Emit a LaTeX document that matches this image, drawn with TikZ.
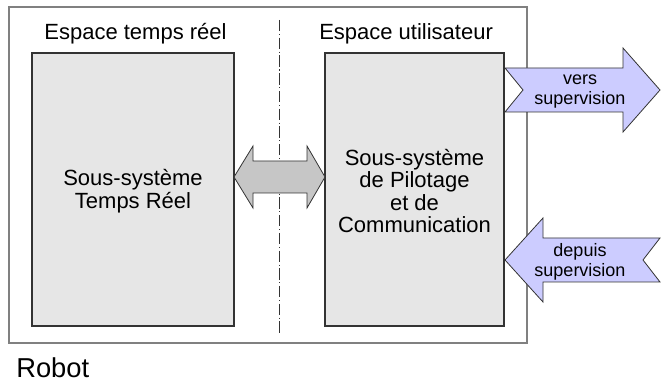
\documentclass[tikz,border=0pt]{standalone}
\usepackage{fontspec}
\setmainfont{Liberation Sans}
\definecolor{boxfill}{HTML}{E6E6E6}
\definecolor{boxline}{HTML}{333333}
\definecolor{outerline}{HTML}{808080}
\definecolor{arrowgray}{HTML}{C6C6C6}
\definecolor{lavender}{HTML}{CCCCFF}
\tikzset{
  subsys/.style={draw=boxline, fill=boxfill, line width=0.8pt},
  outerframe/.style={draw=outerline, line width=1pt},
  bigarrow/.style={draw=boxline, line width=0.6pt, line join=miter},
  bodytext/.style={align=center, font=\fontsize{16.5}{16.9}\selectfont},
  titletext/.style={font=\fontsize{16.5}{16.9}\selectfont},
  smalltext/.style={align=center, font=\fontsize{13.5}{15}\selectfont},
  divider/.style={draw=boxline, line width=0.7pt, dash pattern=on 8.5pt off 2pt on 0.8pt off 2pt}
}
\begin{document}
\begin{tikzpicture}[x=0.75pt, y=-0.75pt]
\useasboundingbox (0,0) rectangle (661,381);
% outer frame
\draw[outerframe] (9,7) rectangle (527,343);
% divider
\coordinate (dtop) at (279,20);
\coordinate (dbot) at (279,335);
\draw[divider] (dtop) -- (dbot);
% titles
\node[titletext, anchor=base] (t1) at (135.5,40) {Espace temps réel};
\node[titletext, anchor=base west, inner sep=0pt] (t2) at (319,40) {Espace utilisateur};
% subsystem boxes
\draw[subsys] (32,53) rectangle (234,326);
\draw[subsys] (325,53) rectangle (504,326);
\node[bodytext] (rt) at (133,191) {Sous-système\\Temps Réel};
\node[bodytext] (pc) at (414.5,191) {Sous-système\\de Pilotage\\et de\\Communication};
% double arrow
\draw[bigarrow, fill=arrowgray] (234,177) -- (253,146) -- (253,161) -- (307,161) -- (307,146) -- (325,177) -- (307,208) -- (307,193) -- (253,193) -- (253,208) -- cycle;
% vers supervision
\draw[bigarrow, fill=lavender] (505,68) -- (623,68) -- (623,48) -- (660,90) -- (623,132) -- (623,112) -- (505,112) -- (523,90) -- cycle;
\node[smalltext] (vs) at (580,92) {vers\\supervision};
% depuis supervision
\draw[bigarrow, fill=lavender] (505,260) -- (543,218) -- (543,238) -- (660,238) -- (643,260) -- (660,282) -- (543,282) -- (543,302) -- cycle;
\node[smalltext] (ds) at (580,262) {depuis\\supervision};
% Robot
\node[font=\fontsize{20.5}{21}\selectfont, anchor=base west, inner sep=0pt] (robot) at (16,377) {Robot};
\end{tikzpicture}
\end{document}
